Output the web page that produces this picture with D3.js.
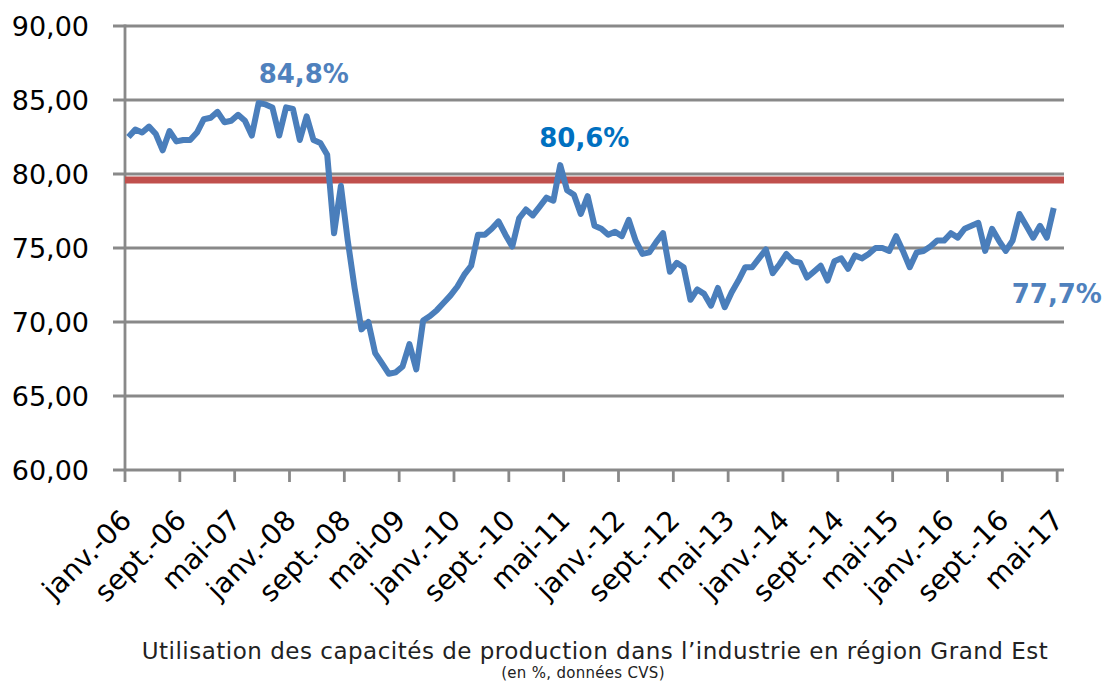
<!DOCTYPE html>
<html><head><meta charset="utf-8">
<script src="https://cdn.jsdelivr.net/npm/d3@7"></script>
<style>body{margin:0;background:#fff}svg{display:block}</style>
</head><body>
<svg id="chart" width="1104" height="681"></svg>
<script>
// ---- DATA ----
const tickLabels = ["janv.-06","sept.-06","mai-07","janv.-08","sept.-08","mai-09","janv.-10","sept.-10","mai-11","janv.-12","sept.-12","mai-13","janv.-14","sept.-14","mai-15","janv.-16","sept.-16","mai-17"];
const tickMonths = [0,8,16,24,32,40,48,56,64,72,80,88,96,104,112,120,128,136];
const yTicks = [60,65,70,75,80,85,90];
const values = [
82.5,83.0,82.8,83.2,82.7,81.6,82.9,82.2,82.3,82.3,82.8,83.7,83.8,84.2,83.5,83.6,84.0,83.6,82.6,84.8,
84.7,84.5,82.6,84.5,84.4,82.3,83.9,82.3,82.1,81.3,76.0,79.2,75.5,72.3,69.5,70.0,67.9,67.2,66.5,66.6,
67.0,68.5,66.8,70.1,70.4,70.8,71.3,71.8,72.4,73.2,73.8,75.9,75.9,76.3,76.8,75.9,75.1,77.0,77.6,77.2,
77.8,78.4,78.2,80.6,78.9,78.6,77.3,78.5,76.5,76.3,75.9,76.1,75.8,76.9,75.5,74.6,74.7,75.4,76.0,73.4,
74.0,73.7,71.5,72.2,71.9,71.1,72.3,71.0,72.0,72.8,73.7,73.7,74.3,74.9,73.3,73.9,74.6,74.1,74.0,73.0,
73.4,73.8,72.8,74.1,74.3,73.6,74.5,74.3,74.6,75.0,75.0,74.8,75.8,74.8,73.7,74.7,74.8,75.1,75.5,75.5,
76.0,75.7,76.3,76.5,76.7,74.8,76.3,75.5,74.8,75.5,77.3,76.5,75.7,76.5,75.7,77.7];
const refLevel = 79.6;
const annotations = [
  {index:19, text:"84,8%", color:"#4f81bd", dx:0, dy:-20},
  {index:63, text:"80,6%", color:"#0070c0", dx:-21, dy:-18},
  {index:135, text:"77,7%", color:"#4f81bd", dx:-42, dy:95}
];
const title = "Utilisation des capacités de production dans l\u2019industrie en région Grand Est";
const subtitle = "(en %, données CVS)";

// ---- CHART ----
(function(){
const svg = d3.select("#chart");
const pLeft = 125, pRight = 1064, pTop = 26, pBottom = 470;
const x = d3.scaleLinear().domain([0,137]).range([pLeft,pRight]);
const y = d3.scaleLinear().domain([60,90]).range([pBottom,pTop]);
const grey = "#898989";
const font = "'DejaVu Sans', sans-serif";

svg.append("g").selectAll("line").data(yTicks).join("line")
  .attr("x1", pLeft-12).attr("x2", pRight)
  .attr("y1", d=>y(d)).attr("y2", d=>y(d))
  .attr("stroke", grey).attr("stroke-width", 2.8);

svg.append("g").selectAll("text").data(yTicks).join("text")
  .attr("x", 89).attr("y", d=>y(d)).attr("dy","0.36em")
  .attr("text-anchor","end")
  .attr("font-family", font).attr("font-size", 27).attr("fill","#000")
  .text(d=>d3.format(".2f")(d).replace(".",","));

svg.append("line").attr("x1",pLeft).attr("x2",pLeft).attr("y1",pTop-1.4).attr("y2",pBottom)
  .attr("stroke",grey).attr("stroke-width",2.8);

svg.append("g").selectAll("line").data(tickMonths).join("line")
  .attr("x1", d=>x(d)).attr("x2", d=>x(d))
  .attr("y1", pBottom).attr("y2", pBottom+12)
  .attr("stroke", grey).attr("stroke-width", 2.8);

svg.append("g").selectAll("text").data(tickMonths).join("text")
  .attr("transform", d=>`translate(${x(d)+8},${pBottom+52}) rotate(-45)`)
  .attr("text-anchor","end")
  .attr("font-family", font).attr("font-size", 28).attr("fill","#000")
  .text((d,i)=>tickLabels[i]);

svg.append("line").attr("x1",pLeft).attr("x2",pRight)
  .attr("y1",y(refLevel)).attr("y2",y(refLevel))
  .attr("stroke","#c0504d").attr("stroke-width",7);

const line = d3.line().x((d,i)=>x(i+0.5)).y(d=>y(d)).curve(d3.curveLinear);
svg.append("path").datum(values)
  .attr("d", line).attr("fill","none")
  .attr("stroke","#4a7ebb").attr("stroke-width",6)
  .attr("stroke-linejoin","round").attr("stroke-linecap","butt");

svg.append("g").selectAll("text").data(annotations).join("text")
  .attr("x", d=>x(d.index+0.5)+d.dx).attr("y", d=>y(values[d.index])+d.dy)
  .attr("font-family", font).attr("font-weight","bold").attr("font-size", 26)
  .attr("fill", d=>d.color).text(d=>d.text);

svg.append("text").attr("x",595).attr("y",659).attr("text-anchor","middle")
  .attr("font-family", font).attr("font-size", 23).attr("letter-spacing", 0.5)
  .attr("fill","#222").text(title);
svg.append("text").attr("x",583).attr("y",678).attr("text-anchor","middle")
  .attr("font-family", font).attr("font-size", 15).attr("letter-spacing", 0.3)
  .attr("fill","#222").text(subtitle);
})();
</script>
</body></html>
